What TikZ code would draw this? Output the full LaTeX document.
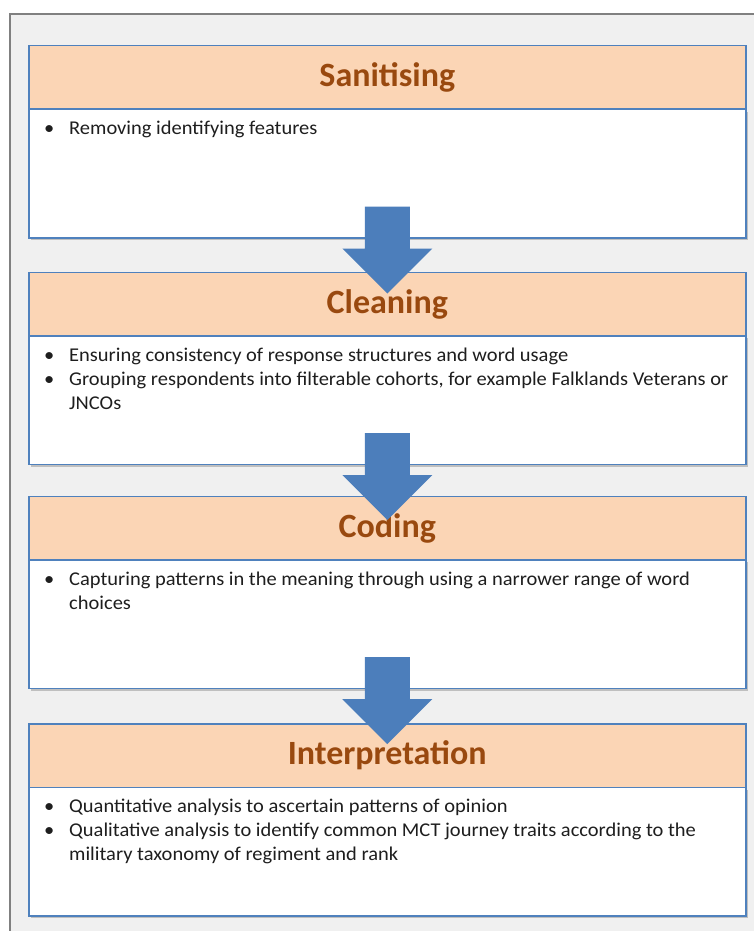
\documentclass[tikz,border=0pt]{standalone}
\usepackage{fontspec}
\setmainfont{Carlito}
\newfontfamily\bodyfont[FakeStretch=1.05]{Carlito}
\usetikzlibrary{calc,shadows}
\definecolor{peach}{RGB}{251,213,181}
\definecolor{boxblue}{RGB}{79,129,189}
\definecolor{arrowblue}{RGB}{76,126,187}
\definecolor{hdrtext}{RGB}{153,73,15}
\definecolor{bggray}{RGB}{240,240,240}
\definecolor{framegray}{RGB}{128,128,128}
\definecolor{bodytext}{RGB}{30,30,30}
\begin{document}
\begin{tikzpicture}[x=1pt,y=-1pt,
  hdr/.style={draw=boxblue,line width=1.5pt,fill=peach,minimum width=717pt,minimum height=63.5pt,inner sep=0pt,anchor=north west,font=\fontsize{34}{38}\selectfont\bfseries,text=hdrtext},
  bdy/.style={draw=boxblue,line width=1.5pt,fill=white,minimum width=717pt,minimum height=128.5pt,inner sep=0pt,anchor=north west,drop shadow={shadow xshift=2pt,shadow yshift=-2.5pt,opacity=0.35,fill=black!60}},
  bul/.style={anchor=north west,inner sep=0pt,font=\bodyfont\fontsize{19.5}{24}\selectfont,text=bodytext},
  txt/.style={anchor=north west,inner sep=0pt,align=left,font=\bodyfont\fontsize{19.5}{24}\selectfont,text=bodytext},
  flowarrow/.style={fill=arrowblue,draw=none}
]
\useasboundingbox (0,0) rectangle (754,931);
\draw[framegray,line width=2pt,fill=bggray] (10,14) rectangle (780,960);

% boxes
\foreach \i/\y in {1/45,2/271.5,3/495.5,4/723}{
  \node[bdy] (b\i) at (28,\y+63.5) {};
}
\node[hdr] (h1) at (28,45) {Sanitising};
\node[hdr] (h2) at (28,271.5) {Cleaning};
\node[hdr] (h3) at (28,495.5) {Coding};
\node[hdr] (h4) at (28,723) {Interpretation};

% body texts (baseline of first line 26pt below the body top)
\node[bul] (p1) at ($(b1.north west)+(16,9.2)$) {\strut\textbullet};
\node[txt] (t1) at ($(b1.north west)+(41,9.2)$) {\strut Removing identifying features};

\node[bul] (p2a) at ($(b2.north west)+(16,9.2)$) {\strut\textbullet};
\node[txt] (t2a) at ($(b2.north west)+(41,9.2)$) {\strut Ensuring consistency of response structures and word usage};
\node[bul] (p2b) at ($(b2.north west)+(16,33.2)$) {\strut\textbullet};
\node[txt] (t2b) at ($(b2.north west)+(41,33.2)$) {\strut Grouping respondents into filterable cohorts, for example Falklands Veterans or\\JNCOs};

\node[bul] (p3) at ($(b3.north west)+(16,9.2)$) {\strut\textbullet};
\node[txt] (t3) at ($(b3.north west)+(41,9.2)$) {\strut Capturing patterns in the meaning through using a narrower range of word\\choices};

\node[bul] (p4a) at ($(b4.north west)+(16,9.2)$) {\strut\textbullet};
\node[txt] (t4a) at ($(b4.north west)+(41,9.2)$) {\strut Quantitative analysis to ascertain patterns of opinion};
\node[bul] (p4b) at ($(b4.north west)+(16,33.2)$) {\strut\textbullet};
\node[txt] (t4b) at ($(b4.north west)+(41,33.2)$) {\strut Qualitative analysis to identify common MCT journey traits according to the\\military taxonomy of regiment and rank};

% arrows
\foreach \i in {1,2,3}{
  \fill[flowarrow]
    ($(b\i.south)+(-22.5,-32)$) -- ($(b\i.south)+(22.5,-32)$) --
    ($(b\i.south)+(22.5,10)$) -- ($(b\i.south)+(45,10)$) --
    ($(b\i.south)+(0,55)$) --
    ($(b\i.south)+(-45,10)$) -- ($(b\i.south)+(-22.5,10)$) -- cycle;
}
\end{tikzpicture}
\end{document}
